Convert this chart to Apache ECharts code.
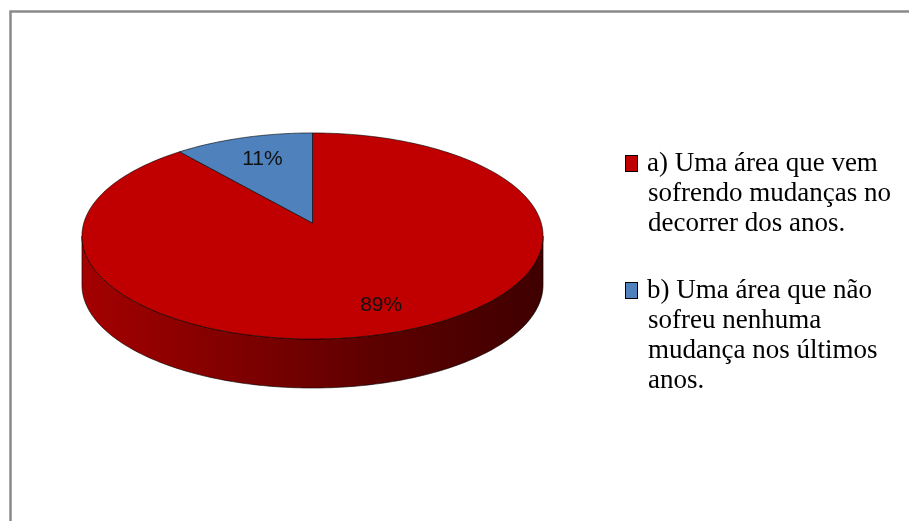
<!DOCTYPE html>
<html>
<head>
<meta charset="utf-8">
<script src="https://cdn.jsdelivr.net/npm/echarts@6/dist/echarts.min.js"></script>
<style>
  html, body { margin: 0; padding: 0; background: #fff; }
  #chart { width: 909px; height: 521px; }
</style>
</head>
<body>
<div id="chart"></div>
<script>
const NAMES = [
  "a) Uma área que vem\nsofrendo mudanças no\ndecorrer dos anos.",
  "b) Uma área que não\nsofreu nenhuma\nmudança nos últimos\nanos.",
];
const VALUES = [89, 11];
const COLORS = ["#c00000", "#4f81bd"];

const TOTAL = VALUES.reduce((a, b) => a + b, 0);
const STARTS = VALUES.map((_, i) => VALUES.slice(0, i).reduce((a, b) => a + b, 0));

// tilted disc, simple perspective
const CX = 312.5, CY = 223, RX = 228.7, RY = 101.4, PERSP = 0.126, DEPTH = 49;
const SIL = Math.acos(-PERSP);

function project(theta, f, drop) {
  const u = Math.sin(theta) * f, v = Math.cos(theta) * f;
  const k = 1 / (1 + PERSP * v);
  return [CX + RX * u * k, CY - RY * v * k + (drop || 0)];
}

function rim(a, b, drop) {
  const pts = [];
  const n = Math.max(2, Math.ceil((b - a) / (Math.PI / 180)));
  for (let i = 0; i <= n; i++) pts.push(project(a + (b - a) * i / n, 1, drop));
  return pts;
}

const sideFill = new echarts.graphic.LinearGradient(82, 0, 543, 0, [
  { offset: 0, color: "#a40000" },
  { offset: 0.4, color: "#780000" },
  { offset: 0.65, color: "#5c0000" },
  { offset: 1, color: "#3f0000" },
], true);

const EDGE = { stroke: "rgba(0,0,0,0.75)", lineWidth: 0.8 };

function renderSlice(params, api) {
  const value = api.value(0), start = api.value(1);
  const a = start / TOTAL * Math.PI * 2;
  const b = (start + value) / TOTAL * Math.PI * 2;
  const color = COLORS[params.seriesIndex];
  const children = [];

  const sa = Math.max(a, SIL), sb = Math.min(b, Math.PI * 2 - SIL);
  if (sa < sb) {
    const top = rim(sa, sb, 0);
    const bottom = rim(sa, sb, DEPTH).reverse();
    children.push({
      type: "polygon",
      shape: { points: top.concat(bottom) },
      style: Object.assign({ fill: sideFill }, EDGE),
    });
  }

  children.push({
    type: "polygon",
    shape: { points: [project(0, 0)].concat(rim(a, b, 0)) },
    style: Object.assign({ fill: color }, EDGE),
  });

  const mid = (a + b) / 2;
  const lp = project(mid, 0.76);
  children.push({
    type: "text",
    x: lp[0] + 4,
    y: lp[1] + 3,
    style: {
      text: Math.round(value / TOTAL * 100) + "%",
      font: '21px "Liberation Sans", Arial, sans-serif',
      fill: "#111",
      align: "center",
      verticalAlign: "middle",
    },
  });

  return { type: "group", children };
}

const rich = {
  t: { fontFamily: '"Liberation Serif", "Times New Roman", serif', fontSize: 27, lineHeight: 30, color: "#000" },
  g: { width: 10, height: 10, lineHeight: 30 },
  pad: { width: 22, height: 10, lineHeight: 30 },
};
COLORS.forEach((c, i) => {
  rich["m" + i] = {
    width: 11, height: 15, backgroundColor: c,
    borderColor: "#000", borderWidth: 1, verticalAlign: "middle", lineHeight: 30,
  };
});

const chart = echarts.init(document.getElementById("chart"), null, { renderer: "canvas" });
chart.setOption({
  animation: false,
  backgroundColor: "#fff",
  graphic: [{
    type: "rect",
    shape: { x: 10.5, y: 11.5, width: 1000, height: 600 },
    style: { fill: "none", stroke: "#8a8a8a", lineWidth: 2.5 },
    silent: true,
  }],
  legend: {
    orient: "vertical",
    left: 616,
    top: 145,
    itemGap: 40,
    icon: "none",
    itemWidth: 0,
    itemHeight: 10,
    selectedMode: false,
    data: NAMES,
    formatter: (name) => {
      const idx = NAMES.indexOf(name);
      return name.split("\n").map((line, i) =>
        (i === 0 ? `{m${idx}|}{g|}` : "{pad|}") + `{t|${line}}`
      ).join("\n");
    },
    textStyle: { rich },
  },
  series: NAMES.map((name, i) => ({
    type: "custom",
    name,
    coordinateSystem: "none",
    color: COLORS[i],
    renderItem: renderSlice,
    data: [[VALUES[i], STARTS[i]]],
  })),
});
</script>
</body>
</html>
